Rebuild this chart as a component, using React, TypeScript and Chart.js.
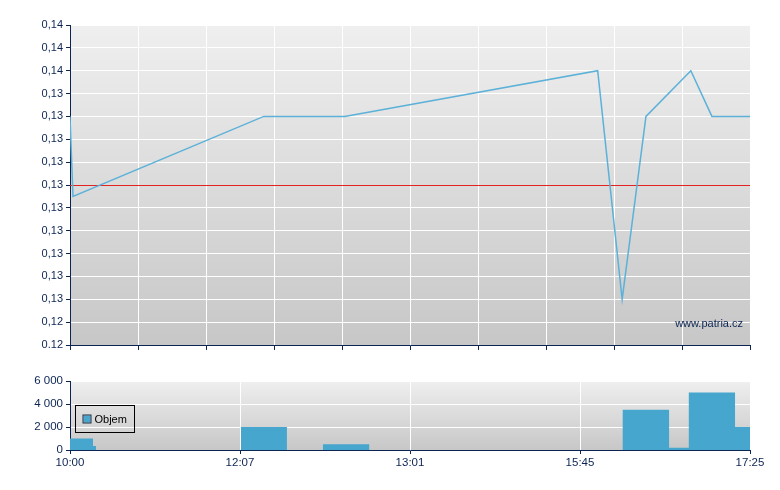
import React, { useEffect, useRef } from 'react';
import { Chart, registerables } from 'chart.js';

Chart.register(...registerables);

// ---- Price panel data (x = position on the compressed trading-time axis, 0..10) ----
const priceX = [0, 0.044, 2.85, 4.04, 7.76, 8.12, 8.47, 9.13, 9.44, 10];
const priceY = [0.133, 0.1295, 0.133, 0.133, 0.135, 0.125, 0.133, 0.135, 0.133, 0.133];
const referencePrice = 0.13;
const priceMin = 0.123;
const priceMax = 0.137;
const priceStep = 0.001;
const priceTickLabels = [
  '0.12', '0,12', '0,13', '0,13', '0,13', '0,13', '0,13', '0,13',
  '0,13', '0,13', '0,13', '0,13', '0,14', '0,14', '0,14',
];

// ---- Volume panel data ----
const volStart = [0, 0.338, 2.515, 3.72, 8.128, 8.81, 9.1, 9.78];
const volEnd = [0.338, 0.382, 3.19, 4.4, 8.81, 9.1, 9.78, 10];
const volValue = [1000, 350, 2000, 500, 3500, 200, 5000, 2000];
const volTickValues = [0, 2000, 4000, 6000];
const volTickLabels = ['0', '2 000', '4 000', '6 000'];
const timeTickPos = [0, 2.5, 5, 7.5, 10];
const timeTickLabels = ['10:00', '12:07', '13:01', '15:45', '17:25'];
const legendLabel = 'Objem';
const watermark = 'www.patria.cz';

const NAVY = '#0c2452';
const FONT = "'Liberation Sans', Arial, sans-serif";
const LINE_BLUE = '#5cb1d8';
const BAR_BLUE = '#46a6ce';
const REF_RED = '#e32222';

const bgPlugin = {
  id: 'bgGradient',
  beforeDraw(chart: any) {
    const { ctx, chartArea } = chart;
    const { left, top, right, bottom } = chartArea;
    const g = ctx.createLinearGradient(0, top, 0, bottom);
    g.addColorStop(0, '#efefef');
    g.addColorStop(1, '#c7c7c7');
    ctx.save();
    ctx.fillStyle = g;
    ctx.fillRect(left, top, right - left, bottom - top);
    ctx.restore();
  },
};

// keep the 1px reference line crisp (align to pixel centre)
const crispRefPlugin = {
  id: 'crispRef',
  beforeDatasetDraw(chart: any, args: any) {
    if (args.index === 1) {
      chart.ctx.save();
      chart.ctx.translate(0, 0.5);
    }
  },
  afterDatasetDraw(chart: any, args: any) {
    if (args.index === 1) chart.ctx.restore();
  },
};

const watermarkPlugin = {
  id: 'watermark',
  afterDatasetsDraw(chart: any) {
    const { ctx, chartArea } = chart;
    ctx.save();
    ctx.font = `11px ${FONT}`;
    ctx.fillStyle = NAVY;
    ctx.textAlign = 'right';
    ctx.textBaseline = 'alphabetic';
    ctx.fillText(watermark, chartArea.right - 7, chartArea.bottom - 18);
    ctx.restore();
  },
};

const legendPlugin = {
  id: 'boxLegend',
  afterDatasetsDraw(chart: any) {
    const { ctx, chartArea } = chart;
    const x = chartArea.left + 5.5;
    const y = chartArea.top + 24.5;
    ctx.save();
    ctx.strokeStyle = '#000000';
    ctx.lineWidth = 1;
    ctx.strokeRect(x, y, 59, 27);
    ctx.fillStyle = BAR_BLUE;
    ctx.fillRect(x + 8, y + 10, 7, 7);
    ctx.strokeStyle = '#1b2f45';
    ctx.strokeRect(x + 7.5, y + 9.5, 8, 8);
    ctx.fillStyle = '#000000';
    ctx.font = `11px ${FONT}`;
    ctx.textAlign = 'left';
    ctx.textBaseline = 'middle';
    ctx.fillText(legendLabel, x + 19, y + 14.5);
    ctx.restore();
  },
};

function PriceChart() {
  const ref = useRef<HTMLCanvasElement>(null);
  useEffect(() => {
    const tickVals = priceTickLabels.map((_, i) => priceMin + i * priceStep);
    const chart = new Chart(ref.current!, {
      type: 'line',
      data: {
        datasets: [
          {
            data: priceX.map((x, i) => ({ x, y: priceY[i] })),
            borderColor: LINE_BLUE,
            borderWidth: 1.5,
            pointRadius: 0,
            tension: 0,
            order: 1,
          },
          {
            data: [
              { x: 0, y: referencePrice },
              { x: 10, y: referencePrice },
            ],
            borderColor: REF_RED,
            borderWidth: 1,
            pointRadius: 0,
            order: 2,
          },
        ],
      },
      options: {
        animation: false,
        responsive: false,
        layout: { padding: { top: 25, right: 30, left: 0, bottom: 0 } },
        plugins: { legend: { display: false }, tooltip: { enabled: false } },
        scales: {
          x: {
            type: 'linear',
            min: 0,
            max: 10,
            afterBuildTicks: (s: any) => {
              s.ticks = [0, 1, 2, 3, 4, 5, 6, 7, 8, 9, 10].map((v) => ({ value: v }));
            },
            afterFit: (s: any) => {
              s.height = 15;
            },
            ticks: { display: false },
            grid: { color: '#ffffff', lineWidth: 1, tickColor: NAVY, tickLength: 5 },
            border: { color: NAVY, width: 1 },
          },
          y: {
            type: 'linear',
            min: priceMin,
            max: priceMax,
            afterBuildTicks: (s: any) => {
              s.ticks = tickVals.map((v) => ({ value: v }));
            },
            afterFit: (s: any) => {
              s.width = 70;
            },
            ticks: {
              padding: 3,
              color: NAVY,
              font: { family: FONT, size: 11 },
              callback: (_v: any, i: number) => priceTickLabels[i],
            },
            grid: { color: '#ffffff', lineWidth: 1, tickColor: NAVY, tickLength: 4 },
            border: { color: NAVY, width: 1 },
          },
        },
      },
      plugins: [bgPlugin, crispRefPlugin, watermarkPlugin],
    } as any);
    return () => chart.destroy();
  }, []);
  return <canvas ref={ref} width={780} height={360} style={{ display: 'block' }} />;
}

function VolumeChart() {
  const ref = useRef<HTMLCanvasElement>(null);
  useEffect(() => {
    const pts: { x: number; y: number }[] = [];
    volStart.forEach((s, i) => {
      pts.push({ x: s, y: volValue[i] });
      const next = volStart[i + 1];
      if (next === undefined) {
        pts.push({ x: volEnd[i], y: volValue[i] });
      } else if (Math.abs(next - volEnd[i]) > 1e-6) {
        pts.push({ x: volEnd[i], y: 0 });
      }
    });
    const chart = new Chart(ref.current!, {
      type: 'line',
      data: {
        datasets: [
          {
            label: legendLabel,
            data: pts,
            stepped: true,
            fill: 'origin',
            backgroundColor: BAR_BLUE,
            borderColor: 'rgba(0,0,0,0)',
            borderWidth: 0,
            pointRadius: 0,
          },
        ],
      },
      options: {
        animation: false,
        responsive: false,
        layout: { padding: { top: 21, right: 30, left: 0, bottom: 0 } },
        plugins: { legend: { display: false }, tooltip: { enabled: false } },
        scales: {
          x: {
            type: 'linear',
            min: 0,
            max: 10,
            afterBuildTicks: (s: any) => {
              s.ticks = timeTickPos.map((v) => ({ value: v }));
            },
            afterFit: (s: any) => {
              s.height = 40;
            },
            ticks: {
              padding: 2,
              color: NAVY,
              maxRotation: 0,
              autoSkip: false,
              font: { family: FONT, size: 11.5 },
              callback: (_v: any, i: number) => timeTickLabels[i],
            },
            grid: {
              color: (c: any) =>
                c.tick && (c.tick.value === 0 || c.tick.value === 10) ? 'rgba(0,0,0,0)' : '#ffffff',
              tickColor: NAVY,
              tickLength: 4,
            },
            border: { color: NAVY, width: 1 },
          },
          y: {
            type: 'linear',
            min: 0,
            max: 6000,
            afterBuildTicks: (s: any) => {
              s.ticks = volTickValues.map((v) => ({ value: v }));
            },
            afterFit: (s: any) => {
              s.width = 70;
            },
            ticks: {
              padding: 3,
              color: NAVY,
              font: { family: FONT, size: 11.5 },
              callback: (_v: any, i: number) => volTickLabels[i],
            },
            grid: { color: '#ffffff', tickColor: NAVY, tickLength: 4 },
            border: { color: NAVY, width: 1 },
          },
        },
      },
      plugins: [bgPlugin, legendPlugin],
    } as any);
    return () => chart.destroy();
  }, []);
  return <canvas ref={ref} width={780} height={130} style={{ display: 'block' }} />;
}

export default function App() {
  return (
    <div
      style={{
        position: 'absolute',
        left: 0,
        top: 0,
        width: 780,
        height: 490,
        background: '#ffffff',
      }}
    >
      <PriceChart />
      <VolumeChart />
    </div>
  );
}
